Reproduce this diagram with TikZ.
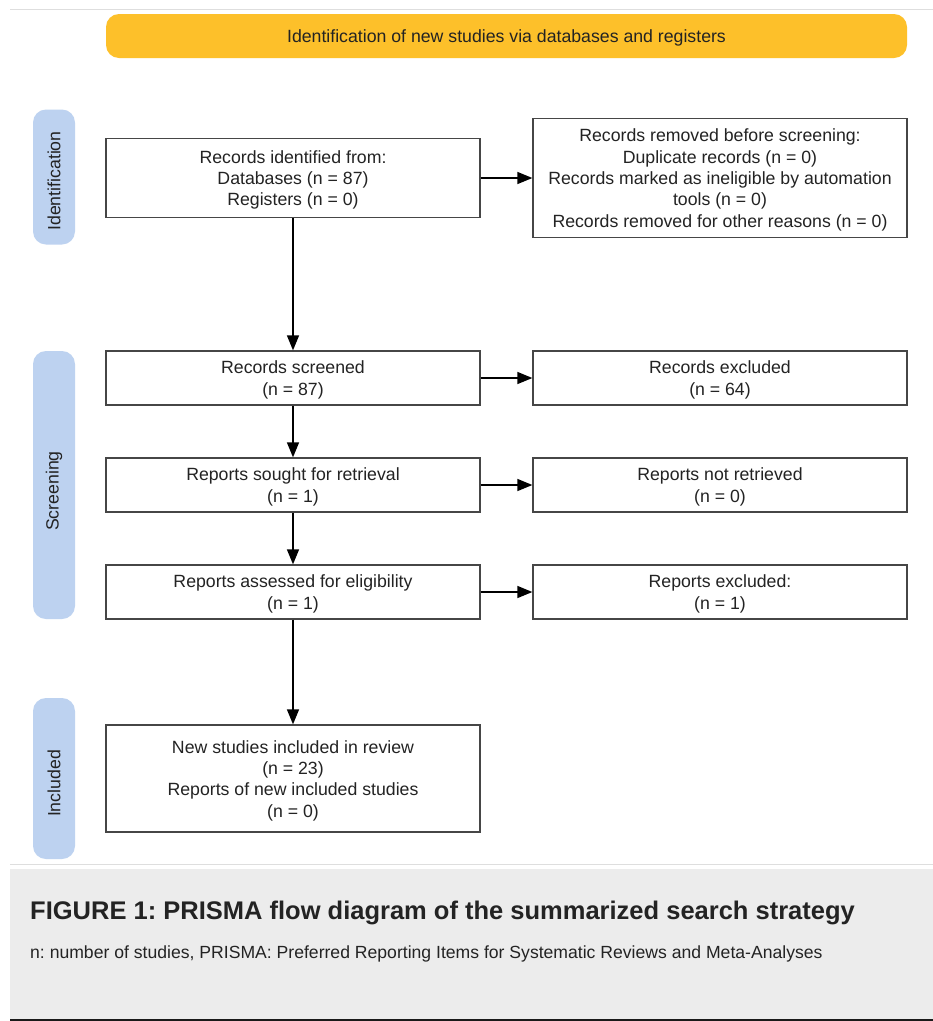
\documentclass[tikz,border=0pt]{standalone}
\usepackage{fontspec}
\setmainfont{Liberation Sans}
\usetikzlibrary{arrows.meta}
\definecolor{hdr}{RGB}{253,192,42}
\definecolor{side}{RGB}{189,210,240}
\definecolor{capbg}{RGB}{236,236,236}
\definecolor{boxline}{RGB}{70,70,70}
\definecolor{txt}{RGB}{35,35,35}
\definecolor{rule}{RGB}{222,222,222}
\frenchspacing
\begin{document}
\begin{tikzpicture}[x=1pt,y=-1pt,
  flowbox/.style={draw=boxline,line width=1.3pt,fill=white,rectangle,inner sep=0pt,minimum width=374pt},
  flowtext/.style={inner sep=0pt,align=center,text=txt,font=\fontsize{17.7}{21.3}\selectfont},
  sidebox/.style={fill=side,rounded corners=13pt,minimum width=42pt,inner sep=0pt},
  sidetext/.style={rotate=90,inner sep=0pt,text=txt,font=\fontsize{17.7}{20}\selectfont},
  arr/.style={line width=1.4pt,draw=black,-{Triangle[length=15pt,width=12pt]}}]
\useasboundingbox (0,0) rectangle (933,1021);
\fill[white] (0,0) rectangle (933,1021);
% rules and caption area
\draw[rule,line width=1pt] (10,9.5) -- (933,9.5);
\draw[rule,line width=1pt] (10,864) -- (933,864);
\fill[capbg] (10,868.5) rectangle (933,1019);
\draw[black!90,line width=2pt] (10,1020) -- (933,1020);
% header
\node[fill=hdr,rounded corners=13pt,minimum width=801pt,minimum height=44pt,inner sep=0pt,
  text=txt,font=\fontsize{17.7}{20}\selectfont] (hdr) at (506.5,36) {\rule{0pt}{16pt}Identification of new studies via databases and registers};
% side bands and labels
\node[sidebox,minimum height=135pt] (sid) at (54,177) {};
\node[sidebox,minimum height=268pt] (sscr) at (54,485) {};
\node[sidebox,minimum height=161pt] (sinc) at (54,778.5) {};
\node[sidetext] (sidT) at ([yshift=-4pt]sid.center) {Identification};
\node[sidetext] (sscrT) at ([yshift=-6pt]sscr.center) {Screening};
\node[sidetext] (sincT) at ([yshift=-5pt]sinc.center) {Included};
% boxes
\node[flowbox,minimum height=79pt] (ident) at (293,178) {};
\node[flowbox,minimum height=119pt] (removed) at (720,178) {};
\node[flowbox,minimum height=54pt] (screened) at (293,378) {};
\node[flowbox,minimum height=54pt] (excluded) at (720,378) {};
\node[flowbox,minimum height=54pt] (sought) at (293,485) {};
\node[flowbox,minimum height=54pt] (notret) at (720,485) {};
\node[flowbox,minimum height=54pt] (assessed) at (293,592) {};
\node[flowbox,minimum height=54pt] (repexcl) at (720,592) {};
\node[flowbox,minimum height=107pt] (included) at (293,778.5) {};
% box texts
\node[flowtext] (identT) at ([yshift=-2pt]ident.center) {Records identified from:\\Databases (n = 87)\\Registers (n = 0)};
\node[flowtext] (removedT) at ([yshift=-2pt]removed.center) {Records removed before screening:\\Duplicate records (n = 0)\\Records marked as ineligible by automation\\tools (n = 0)\\Records removed for other reasons (n = 0)};
\node[flowtext] (screenedT) at ([yshift=-2pt]screened.center) {Records screened\\(n = 87)};
\node[flowtext] (excludedT) at ([yshift=-2pt]excluded.center) {Records excluded\\(n = 64)};
\node[flowtext] (soughtT) at ([yshift=-2pt]sought.center) {Reports sought for retrieval\\(n = 1)};
\node[flowtext] (notretT) at ([yshift=-2pt]notret.center) {Reports not retrieved\\(n = 0)};
\node[flowtext] (assessedT) at ([yshift=-2pt]assessed.center) {Reports assessed for eligibility\\(n = 1)};
\node[flowtext] (repexclT) at ([yshift=-2pt]repexcl.center) {Reports excluded:\\(n = 1)};
\node[flowtext] (includedT) at ([yshift=-2pt]included.center) {New studies included in review\\(n = 23)\\Reports of new included studies\\(n = 0)};
% arrows
\draw[arr] (ident.east) -- (removed.west);
\draw[arr] (screened.east) -- (excluded.west);
\draw[arr] (sought.east) -- (notret.west);
\draw[arr] (assessed.east) -- (repexcl.west);
\draw[arr] (ident.south) -- (screened.north);
\draw[arr] (screened.south) -- (sought.north);
\draw[arr] (sought.south) -- (assessed.north);
\draw[arr] (assessed.south) -- (included.north);
% caption
\node[anchor=base west,inner sep=0pt,text=txt,font=\fontsize{25.5}{30}\selectfont\bfseries] (cap) at (30,919) {FIGURE 1: PRISMA flow diagram of the summarized search strategy};
\node[anchor=base west,inner sep=0pt,text=txt,font=\fontsize{17.6}{20}\selectfont] (note) at (30,958) {n: number of studies, PRISMA: Preferred Reporting Items for Systematic Reviews and Meta-Analyses};
\end{tikzpicture}
\end{document}
